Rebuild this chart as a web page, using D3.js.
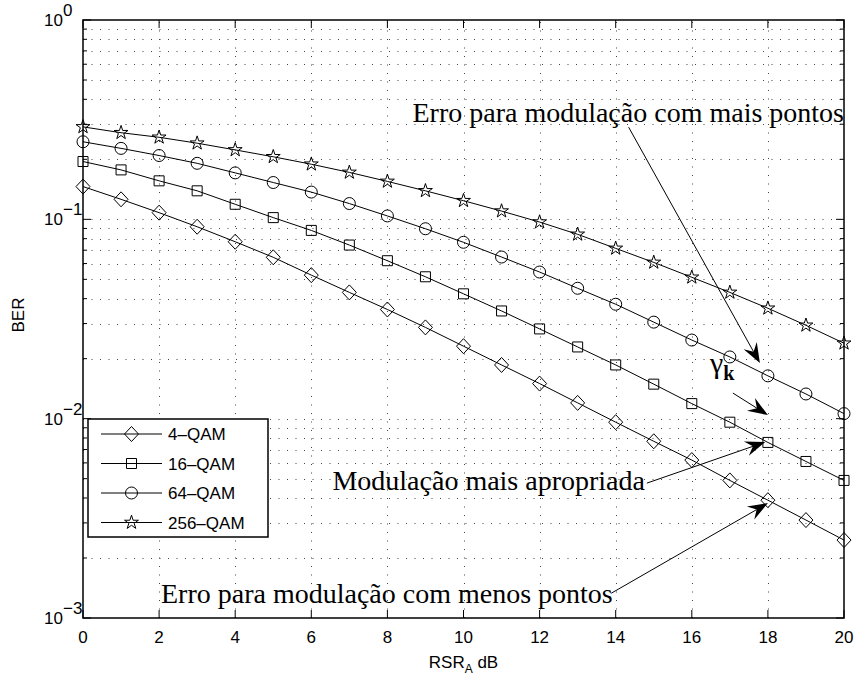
<!DOCTYPE html>
<html>
<head>
<meta charset="utf-8">
<script src="https://cdn.jsdelivr.net/npm/d3@7"></script>
<style>
  body { margin: 0; background: #fff; }
  svg { display: block; }
  .tick-label { font-family: "Liberation Sans", Arial, sans-serif; font-size: 17px; fill: #000; }
  .note { font-family: "Liberation Serif", "Times New Roman", serif; font-size: 28px; fill: #000; }
</style>
</head>
<body>
<div id="chart"></div>
<script>
// x axis: RSR_A in dB
const snrDb = [0, 1, 2, 3, 4, 5, 6, 7, 8, 9, 10, 11, 12, 13, 14, 15, 16, 17, 18, 19, 20];

// BER curves
const ber4qam = [0.146, 0.126, 0.108, 0.0918, 0.0772, 0.0645, 0.0525, 0.0430, 0.0353, 0.0287, 0.0231,
  0.0186, 0.0150, 0.0120, 0.0096, 0.0077, 0.0062, 0.0049, 0.0039, 0.0031, 0.00246];
const ber16qam = [0.195, 0.177, 0.156, 0.139, 0.119, 0.102, 0.088, 0.0743, 0.062, 0.0515, 0.0423,
  0.0347, 0.0282, 0.0229, 0.0186, 0.0149, 0.0119, 0.0096, 0.0076, 0.0061, 0.0049];
const ber64qam = [0.245, 0.227, 0.209, 0.191, 0.171, 0.153, 0.137, 0.120, 0.104, 0.0897, 0.0767,
  0.0647, 0.0544, 0.0451, 0.0375, 0.0305, 0.0248, 0.0204, 0.0164, 0.0133, 0.0106];
const ber256qam = [0.291, 0.272, 0.258, 0.241, 0.223, 0.206, 0.189, 0.172, 0.155, 0.139, 0.124,
  0.110, 0.0969, 0.0841, 0.0715, 0.0608, 0.0512, 0.0430, 0.0358, 0.0294, 0.0239];

const seriesNames = ["4\u2013QAM", "16\u2013QAM", "64\u2013QAM", "256\u2013QAM"];
const seriesMarkers = ["diamond", "square", "circle", "star"];

const xTicks = [0, 2, 4, 6, 8, 10, 12, 14, 16, 18, 20];
const yDecades = [-3, -2, -1, 0];

// annotations, in data units: [x, ber]
const noteMais = {text: "Erro para modulação com mais pontos", at: [20, 0.309], anchor: "end",
  from: [14.34, 0.29], to: [17.79, 0.019]};
const noteApropriada = {text: "Modulação mais apropriada", at: [14.77, 0.00438], anchor: "end",
  from: [14.82, 0.00475], to: [17.93, 0.00763]};
const noteMenos = {text: "Erro para modulação com menos pontos", at: [2.05, 0.00119], anchor: "start",
  from: [13.88, 0.00133], to: [18.0, 0.00377]};
const noteGamma = {at: [16.48, 0.0169], from: [17.08, 0.01344], to: [18.0, 0.01042]};

const width = 860, height = 680;
const margin = {left: 83, right: 16, top: 20, bottom: 62};

const svg = d3.select("#chart").append("svg")
  .attr("width", width)
  .attr("height", height);

const x = d3.scaleLinear().domain([0, 20]).range([margin.left, width - margin.right]);
const y = d3.scaleLog().domain([1e-3, 1]).range([height - margin.bottom, margin.top]);

const x0 = x.range()[0], x1 = x.range()[1];
const y0 = y.range()[0], y1 = y.range()[1];

// minor + major values on the log axis
let yAll = [];
yDecades.forEach(p => {
  if (p === 0) { yAll.push(1); return; }
  for (let m = 1; m <= 9; m++) yAll.push(m * Math.pow(10, p));
});

// grid
const grid = svg.append("g").attr("class", "grid")
  .attr("stroke", "#444").attr("stroke-width", 1).attr("stroke-dasharray", "1,7.5");

grid.selectAll("line.gy")
  .data(yAll.filter(v => v > 1e-3 && v < 1))
  .enter().append("line")
  .attr("class", "gy")
  .attr("x1", x0).attr("x2", x1)
  .attr("y1", d => Math.round(y(d)) + 0.5).attr("y2", d => Math.round(y(d)) + 0.5);

grid.selectAll("line.gx")
  .data(xTicks.filter(v => v > 0 && v < 20))
  .enter().append("line")
  .attr("class", "gx")
  .attr("y1", y0).attr("y2", y1)
  .attr("x1", d => Math.round(x(d)) + 0.5).attr("x2", d => Math.round(x(d)) + 0.5);

// series
const series = [ber4qam, ber16qam, ber64qam, ber256qam];

function markerPath(kind) {
  if (kind === "diamond") return "M0,-7.5L7,0L0,7.5L-7,0Z";
  if (kind === "square") return "M-5,-5H5V5H-5Z";
  if (kind === "circle") return d3.symbol(d3.symbolCircle, 113)();
  return d3.symbol(d3.symbolStar, 60)();
}

const line = d3.line()
  .x((d, i) => x(snrDb[i]))
  .y(d => y(d));

const plot = svg.append("g").attr("class", "series");

series.forEach((vals, k) => {
  plot.append("path")
    .datum(vals)
    .attr("d", line)
    .attr("fill", "none")
    .attr("stroke", "#000")
    .attr("stroke-width", 1);

  plot.selectAll("path.m" + k)
    .data(vals)
    .enter().append("path")
    .attr("class", "m" + k)
    .attr("d", markerPath(seriesMarkers[k]))
    .attr("transform", (d, i) => `translate(${x(snrDb[i])},${y(d)})`)
    .attr("fill", "none")
    .attr("stroke", "#000")
    .attr("stroke-width", 1);
});

// axes box + ticks
const axes = svg.append("g").attr("class", "axes").attr("stroke", "#000");

axes.append("rect")
  .attr("x", x0).attr("y", y1)
  .attr("width", x1 - x0).attr("height", y0 - y1)
  .attr("fill", "none").attr("stroke-width", 1.5);

const yTickData = yAll.map(v => ({v, major: Math.abs(Math.log10(v) - Math.round(Math.log10(v))) < 1e-9}));
yTickData.forEach(t => {
  const len = t.major ? 8 : 4;
  const yy = y(t.v);
  axes.append("line").attr("x1", x0).attr("x2", x0 + len).attr("y1", yy).attr("y2", yy);
  axes.append("line").attr("x1", x1).attr("x2", x1 - len).attr("y1", yy).attr("y2", yy);
});

xTicks.forEach(v => {
  const xx = x(v);
  axes.append("line").attr("x1", xx).attr("x2", xx).attr("y1", y0).attr("y2", y0 - 8);
  axes.append("line").attr("x1", xx).attr("x2", xx).attr("y1", y1).attr("y2", y1 + 8);
});

// tick labels
svg.selectAll("text.xt")
  .data(xTicks)
  .enter().append("text")
  .attr("class", "tick-label xt")
  .attr("x", d => x(d))
  .attr("y", y0 + 25)
  .attr("text-anchor", "middle")
  .text(d => d);

const yl = svg.selectAll("g.yt")
  .data(yDecades)
  .enter().append("g")
  .attr("class", "yt");

yl.append("text")
  .attr("class", "tick-label")
  .attr("x", x0 - 20)
  .attr("y", d => y(Math.pow(10, d)) + 6)
  .attr("text-anchor", "end")
  .text("10");

yl.append("text")
  .attr("class", "tick-label")
  .attr("x", x0 - 20)
  .attr("y", d => y(Math.pow(10, d)) - 4)
  .attr("font-size", "12px")
  .text(d => d < 0 ? "\u2212" + (-d) : d);

// axis titles
const xt = svg.append("text")
  .attr("class", "tick-label")
  .attr("x", (x0 + x1) / 2)
  .attr("y", y0 + 50)
  .attr("text-anchor", "middle");
xt.append("tspan").text("RSR");
xt.append("tspan").attr("font-size", "12px").attr("dy", 5).text("A");
xt.append("tspan").attr("dy", -5).text(" dB");

svg.append("text")
  .attr("class", "tick-label")
  .attr("transform", `translate(24,${(y0 + y1) / 2 - 4}) rotate(-90)`)
  .attr("text-anchor", "middle")
  .text("BER");

// legend
const legend = svg.append("g").attr("class", "legend").attr("transform", "translate(88,419)");
legend.append("rect")
  .attr("width", 180).attr("height", 118)
  .attr("fill", "#fff").attr("stroke", "#000").attr("stroke-width", 1.5);

const rows = legend.selectAll("g.row")
  .data(seriesNames)
  .enter().append("g")
  .attr("class", "row")
  .attr("transform", (d, i) => `translate(0,${15 + i * 29.5})`);

rows.append("line")
  .attr("x1", 13).attr("x2", 74)
  .attr("stroke", "#000").attr("stroke-width", 1);
rows.append("path")
  .attr("d", (d, i) => markerPath(seriesMarkers[i]))
  .attr("transform", "translate(43.5,0)")
  .attr("fill", "none").attr("stroke", "#000");
rows.append("text")
  .attr("class", "tick-label")
  .attr("x", 80).attr("y", 6)
  .text(d => d);

// annotations
function arrow(from, to) {
  const ax = x(from[0]), ay = y(from[1]);
  const bx = x(to[0]), by = y(to[1]);
  const ang = Math.atan2(by - ay, bx - ax);
  const hl = 20, hw = 7.5, notch = 13;
  const ux = Math.cos(ang), uy = Math.sin(ang);
  const nx = -uy, ny = ux;
  const back = [bx - ux * hl, by - uy * hl];
  const mid = [bx - ux * notch, by - uy * notch];
  const g = svg.append("g").attr("class", "arrow");
  g.append("line")
    .attr("x1", ax).attr("y1", ay)
    .attr("x2", mid[0]).attr("y2", mid[1])
    .attr("stroke", "#000").attr("stroke-width", 1);
  g.append("path")
    .attr("d", `M${bx},${by}L${back[0] + nx * hw},${back[1] + ny * hw}L${mid[0]},${mid[1]}L${back[0] - nx * hw},${back[1] - ny * hw}Z`)
    .attr("fill", "#000");
}

[noteMais, noteApropriada, noteMenos].forEach(n => {
  svg.append("text")
    .attr("class", "note")
    .attr("x", x(n.at[0]))
    .attr("y", y(n.at[1]))
    .attr("text-anchor", n.anchor)
    .text(n.text);
  arrow(n.from, n.to);
});

const gk = svg.append("text")
  .attr("class", "note")
  .attr("x", x(noteGamma.at[0]))
  .attr("y", y(noteGamma.at[1]));
gk.append("tspan").attr("font-size", "30px").text("\u03b3");
gk.append("tspan").attr("font-weight", "bold").attr("font-size", "20px").attr("dy", 7).text("k");
arrow(noteGamma.from, noteGamma.to);
</script>
</body>
</html>
